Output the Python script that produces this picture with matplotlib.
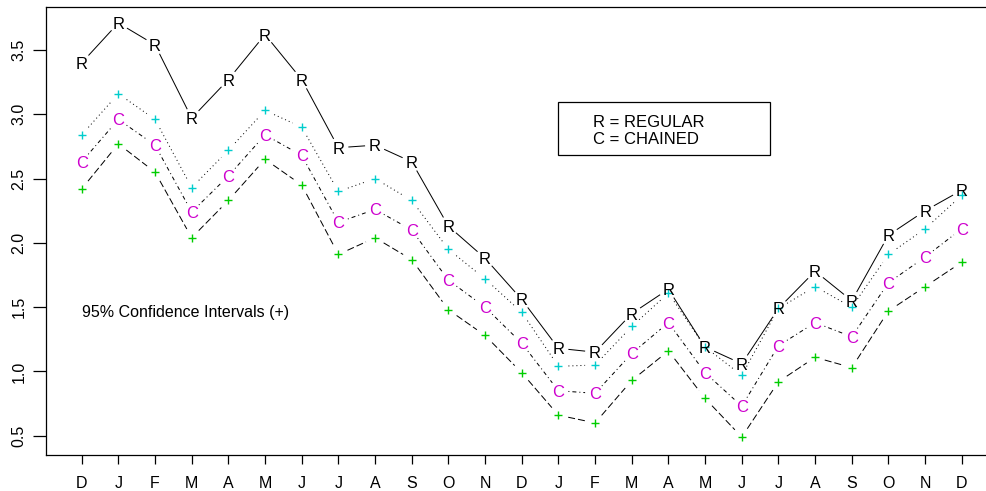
import numpy as np
import matplotlib
matplotlib.use("Agg")
import matplotlib.pyplot as plt
from matplotlib.transforms import offset_copy
from matplotlib.patches import Rectangle

months = ["D", "J", "F", "M", "A", "M", "J", "J", "A", "S", "O", "N", "D",
          "J", "F", "M", "A", "M", "J", "J", "A", "S", "O", "N", "D"]
regular = [3.40, 3.71, 3.54, 2.97, 3.27, 3.62, 3.27, 2.74, 2.76, 2.63, 2.13, 1.88, 1.56,
           1.18, 1.15, 1.45, 1.64, 1.19, 1.06, 1.49, 1.78, 1.55, 2.06, 2.25, 2.41]
upper_ci = [2.84, 3.16, 2.96, 2.43, 2.72, 3.03, 2.90, 2.40, 2.50, 2.33, 1.95, 1.72, 1.46,
            1.04, 1.05, 1.35, 1.61, 1.19, 0.97, 1.49, 1.66, 1.50, 1.91, 2.11, 2.37]
chained = [2.63, 2.96, 2.76, 2.24, 2.52, 2.84, 2.68, 2.16, 2.26, 2.10, 1.71, 1.50, 1.22,
           0.85, 0.83, 1.14, 1.38, 0.99, 0.73, 1.20, 1.38, 1.27, 1.69, 1.89, 2.11]
lower_ci = [2.42, 2.77, 2.55, 2.04, 2.33, 2.65, 2.45, 1.91, 2.04, 1.87, 1.48, 1.28, 0.99,
            0.66, 0.60, 0.93, 1.16, 0.79, 0.49, 0.92, 1.11, 1.03, 1.47, 1.66, 1.85]
yticks = [0.5, 1.0, 1.5, 2.0, 2.5, 3.0, 3.5]

plt.rcParams['font.family'] = ['Liberation Sans', 'DejaVu Sans']
plt.rcParams['lines.scale_dashes'] = False

W, H, DPI = 986, 491, 100
fig = plt.figure(figsize=(W / DPI, H / DPI), dpi=DPI)
ax = fig.add_axes([46.3 / W, (H - 455.3) / H, 1 - 46.3 / W, (455.3 - 7.3) / H])
x = np.arange(len(months))
ax.set_xlim(-0.965, 24.66)
ax.set_ylim(0.348, 3.832)
ax.spines['right'].set_visible(False)
for s in ax.spines.values():
    s.set_linewidth(0.9)

ax.set_xticks(x)
ax.set_xticklabels(months, fontsize=11.5)
ax.set_yticks(yticks)
ax.set_yticklabels([f"{v:.1f}" for v in yticks], fontsize=11.5, rotation=90, va='center')
ax.tick_params(axis='x', length=6.7, width=0.9, pad=8)
ax.tick_params(axis='y', length=9.3, width=0.9, pad=5)

px = 72.0 / DPI
def gapped(xs, ys, gap, style):
    pts = ax.transData.transform(np.column_stack([xs, ys]))
    inv = ax.transData.inverted()
    for i in range(len(pts) - 1):
        p0, p1 = pts[i], pts[i + 1]
        d = p1 - p0
        L = np.hypot(*d)
        if L <= 2 * gap:
            continue
        u = d / L
        seg = inv.transform(np.array([p0 + u * gap, p1 - u * gap]))
        ax.plot(seg[:, 0], seg[:, 1], color='black', lw=1.0 * px, linestyle=style,
                solid_capstyle='butt', dash_capstyle='butt')

dotted = (0, (1 * px, 3 * px))
dotdash = (0, (1 * px, 3 * px, 4 * px, 3 * px))
longdash = (0, (7 * px, 3 * px))

gapped(x, regular, 10, '-')
gapped(x, upper_ci, 10, dotted)
gapped(x, chained, 10, dotdash)
gapped(x, lower_ci, 10, longdash)

fs_mark = 12
tr = offset_copy(ax.transData, fig=fig, x=0, y=-0.716 * fs_mark / 2, units='points')
for xi, yi in zip(x, regular):
    ax.text(xi, yi, "R", transform=tr, ha='center', va='baseline', fontsize=fs_mark, color='black')
for xi, yi in zip(x, chained):
    ax.text(xi, yi, "C", transform=tr, ha='center', va='baseline', fontsize=fs_mark, color='#CD00CD')
ax.plot(x, upper_ci, linestyle='none', marker='+', markersize=7.5 * px * 1.0 / px * 0.72,
        mew=1.0, color='#00CDCD')
ax.plot(x, lower_ci, linestyle='none', marker='+', markersize=7.5 * 0.72,
        mew=1.0, color='#00CD00')

# legend box
ax.add_patch(Rectangle((13.0, 2.681), 5.77, 0.415, fill=False, edgecolor='black', lw=0.9))
trt = offset_copy(ax.transData, fig=fig, x=0, y=-0.716 * 12 / 2, units='points')
ax.text(13.93, 2.95, "R = REGULAR", transform=trt, ha='left', va='baseline', fontsize=12)
ax.text(13.93, 2.813, "C = CHAINED", transform=trt, ha='left', va='baseline', fontsize=12)
ax.text(0.0, 1.473, "95% Confidence Intervals (+)", transform=trt, ha='left', va='baseline',
        fontsize=11.5)

fig.savefig("out.png", dpi=DPI)
